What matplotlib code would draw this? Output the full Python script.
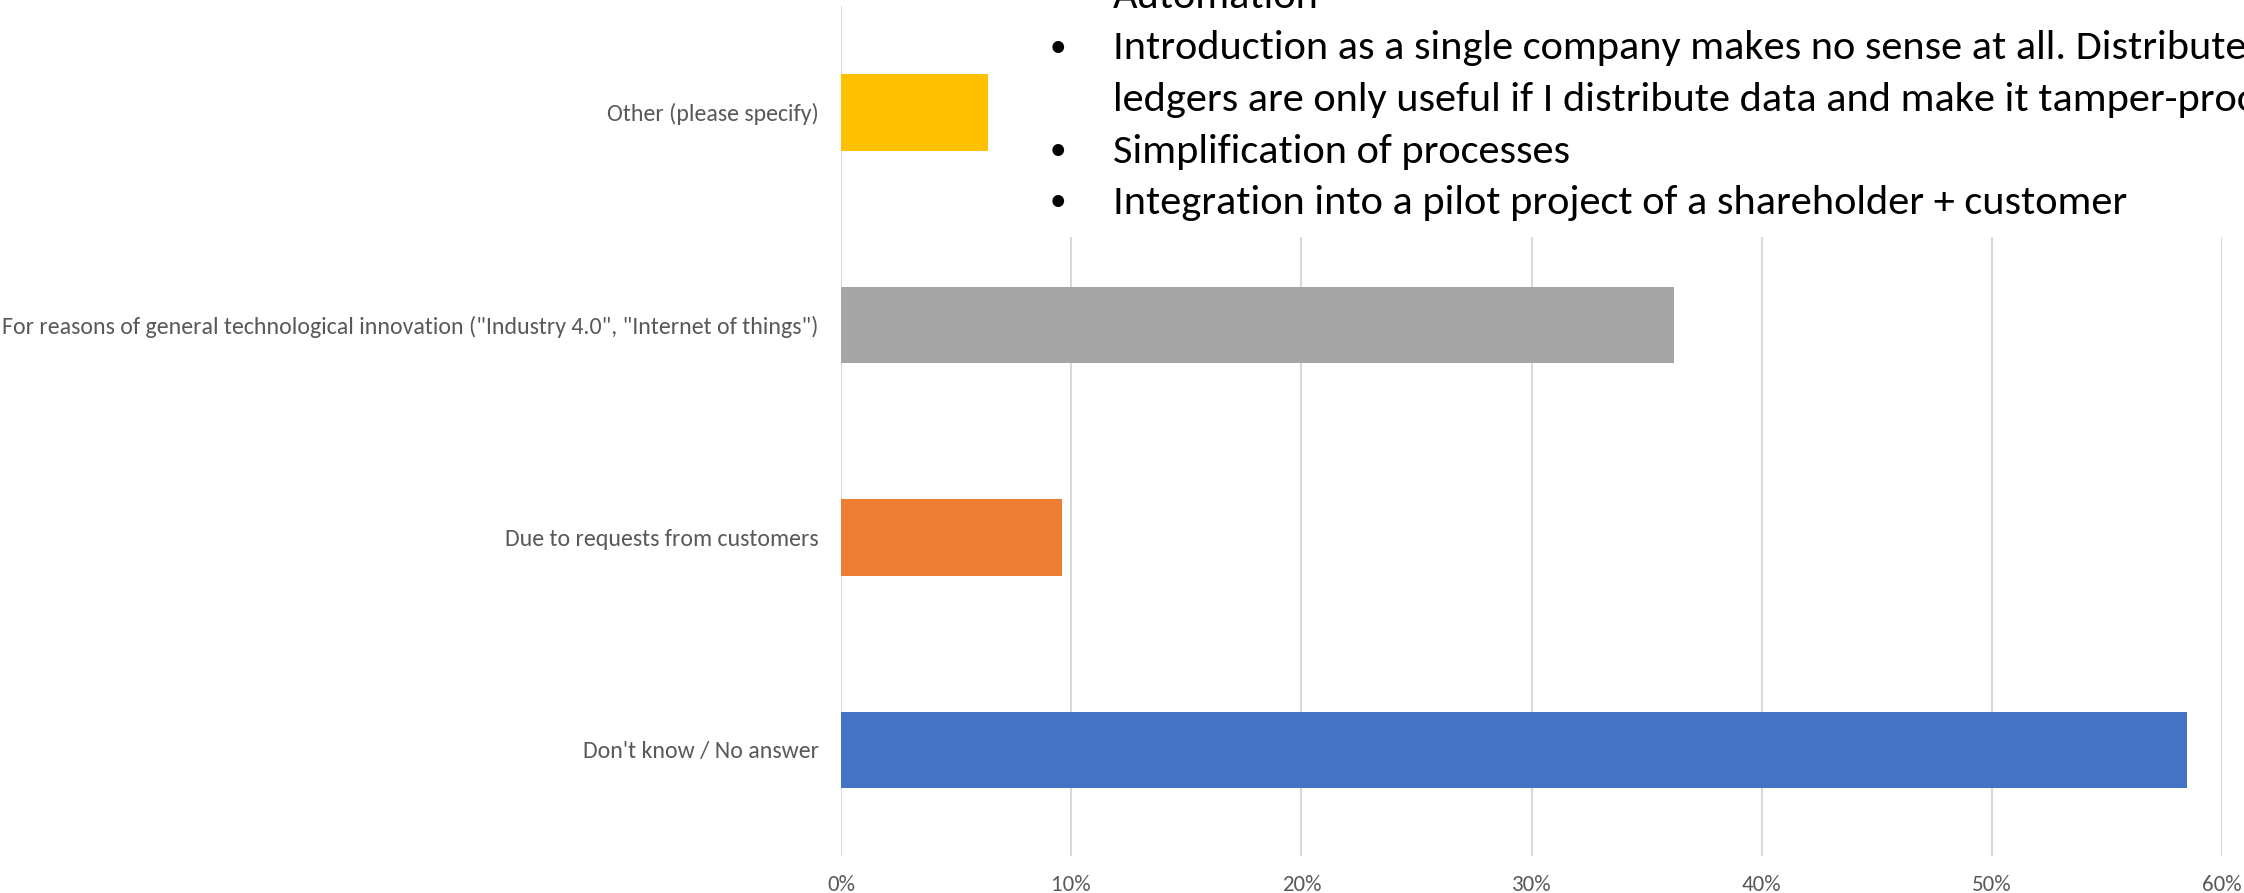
import matplotlib
matplotlib.use("Agg")
import matplotlib.pyplot as plt
from matplotlib.patches import Rectangle
from matplotlib import font_manager
import numpy as np

categories = ["Don't know / No answer",
              "Due to requests from customers",
              "For reasons of general technological innovation (\"Industry 4.0\", \"Internet of things\")",
              "Other (please specify)"]
values = [0.585, 0.096, 0.362, 0.064]
colors = ["#4472C4", "#ED7D31", "#A5A5A5", "#FFC000"]
xticks = [0, 0.1, 0.2, 0.3, 0.4, 0.5, 0.6]
notes = ["Automation",
         "Introduction as a single company makes no sense at all. Distributed",
         "ledgers are only useful if I distribute data and make it tamper-proof",
         "Simplification of processes",
         "Integration into a pilot project of a shareholder + customer"]
note_bullets = [False, True, False, True, True]

names = set(f.name for f in font_manager.fontManager.ttflist)
font = "Carlito" if "Carlito" in names else "Lato"
plt.rcParams['font.family'] = [font, 'DejaVu Sans']

W, H = 2244, 893
fig = plt.figure(figsize=(W / 100, H / 100), dpi=100)
ax = fig.add_axes([841 / W, 37 / H, (2222 - 841) / W, (856 - 6) / H])

y = np.arange(len(categories))
ax.barh(y, values, height=0.36, color=colors, zorder=2)
ax.set_xlim(0, 0.6)
ax.set_ylim(-0.5, 3.5)
ax.set_xticks(xticks)
ax.set_xticklabels([f"{int(round(t * 100))}%" for t in xticks])
ax.set_yticks(y)
ax.set_yticklabels(categories)
ax.grid(axis='x', color='#D9D9D9', linewidth=1.5, zorder=0)
ax.set_axisbelow(True)
for s in ax.spines.values():
    s.set_visible(False)
ax.tick_params(axis='x', length=0, pad=14, labelsize=16.5, labelcolor='#595959')
ax.tick_params(axis='y', length=0, pad=16, labelsize=17.2, labelcolor='#595959')

# white text box at the top right
fig.add_artist(Rectangle((1040 / W, (H - 237) / H), 1.0, 1.0,
                         transform=fig.transFigure, facecolor='white',
                         edgecolor='none', zorder=2))
for i, (line, b) in enumerate(zip(notes, note_bullets)):
    base = 8 + i * 51.5
    yf = (H - base) / H
    if b:
        fig.text(1058 / W, yf + 4 / H, "\u2022", fontsize=24, color='black',
                 ha='center', va='baseline', zorder=3)
    fig.text(1113 / W, yf, line, fontsize=30.5, color='black',
             ha='left', va='baseline', zorder=3)

fig.savefig("out.png", dpi=100)
